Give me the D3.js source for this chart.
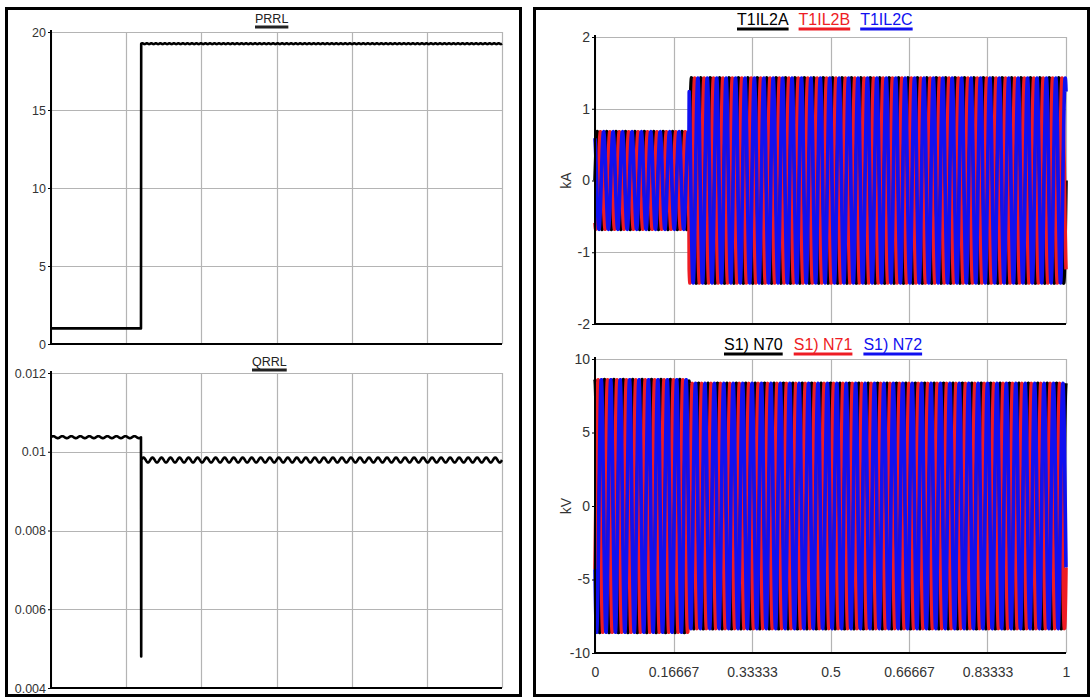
<!DOCTYPE html>
<html>
<head>
<meta charset="utf-8">
<script src="https://cdn.jsdelivr.net/npm/d3@7"></script>
<style>
body { margin: 0; background: #fff; }
svg { display: block; font-family: "Liberation Sans", Arial, sans-serif; }
</style>
</head>
<body>
<svg width="1092" height="700"></svg>
<script>
// values
var xTicks = [0, 0.16667, 0.33333, 0.5, 0.66667, 0.83333, 1];
var xTickLabels = ["0", "0.16667", "0.33333", "0.5", "0.66667", "0.83333", "1"];
var prrlTicks = [0, 5, 10, 15, 20];
var qrrlTicks = [0.004, 0.006, 0.008, 0.01, 0.012];
var kaTicks = [-2, -1, 0, 1, 2];
var kvTicks = [-10, -5, 0, 5, 10];

var stepTime = 0.2;         // switching instant (s)
var freq = 50;              // Hz
var prrlLevel = [1, 19.25]; // before / after step
var prrlRipple = [0, 0.025];
var qrrlLevel = [0.01037, 0.00979];
var qrrlRipple = [0.000025, 0.000062];
var qrrlSpike = 0.0048;
var currentAmp = [0.68, 1.43];
var voltageAmp = [8.6, 8.35];
var phaseDeg = [0, -120, 120];
var currentNames = ["T1IL2A", "T1IL2B", "T1IL2C"];
var voltageNames = ["S1) N70", "S1) N71", "S1) N72"];
var phaseColors = ["#000000", "#ee1c24", "#1010f0"];

var svg = d3.select('svg');
var hyphenInt = d => String(d);

// frames
svg.append('rect').attr('x', 6.5).attr('y', 8.5).attr('width', 514).attr('height', 687)
  .attr('fill', 'none').attr('stroke', '#000').attr('stroke-width', 3);
svg.append('rect').attr('x', 534.5).attr('y', 8.5).attr('width', 554).attr('height', 687)
  .attr('fill', 'none').attr('stroke', '#000').attr('stroke-width', 3);

// sample helpers
var dt = 0.0005;
var times = d3.range(0, 1 + dt / 2, dt);

function levelSeries(level, ripple, period) {
  return times.map(function(t) {
    var i = t < stepTime ? 0 : 1;
    return [t, level[i] + ripple[i] * Math.sin(2 * Math.PI * t / period)];
  });
}

function phaseSeries(amp, ph) {
  return times.map(function(t) {
    var i = t < stepTime ? 0 : 1;
    return [t, amp[i] * Math.sin(2 * Math.PI * freq * t + ph * Math.PI / 180)];
  });
}

function drawPanel(cfg) {
  var x = d3.scaleLinear().domain([0, 1]).range([cfg.left, cfg.right]);
  var y = d3.scaleLinear().domain(cfg.yDomain).range([cfg.bottom, cfg.top]);
  var g = svg.append('g');

  // grid
  g.append('g')
    .selectAll('line.v').data(xTicks).enter().append('line')
    .attr('x1', d => Math.round(x(d)) + 0.5).attr('x2', d => Math.round(x(d)) + 0.5)
    .attr('y1', cfg.top).attr('y2', cfg.bottom)
    .attr('stroke', '#b4b4b4').attr('stroke-width', 1.2);
  g.append('g')
    .selectAll('line.h').data(cfg.yTicks).enter().append('line')
    .attr('x1', cfg.left).attr('x2', cfg.right)
    .attr('y1', d => Math.round(y(d)) + 0.5).attr('y2', d => Math.round(y(d)) + 0.5)
    .attr('stroke', '#b4b4b4').attr('stroke-width', 1.2);

  // series
  var line = d3.line().x(d => x(d[0])).y(d => y(d[1]));
  cfg.series.forEach(function(s) {
    g.append('path').datum(s.data)
      .attr('d', line)
      .attr('fill', 'none')
      .attr('stroke', s.color)
      .attr('stroke-width', s.width)
      .attr('stroke-linejoin', 'round');
  });

  // y axis
  var yAxis = d3.axisLeft(y).tickValues(cfg.yTicks).tickSize(3).tickPadding(2)
    .tickFormat(cfg.yFormat);
  var ya = g.append('g').attr('transform', 'translate(' + cfg.left + ',0)').call(yAxis);
  ya.select('.domain').remove();
  ya.selectAll('.tick line').attr('stroke', '#000');
  ya.selectAll('text').attr('fill', '#333').style('font-size', cfg.fontSize + 'px')
    .style('font-family', '"Liberation Sans", Arial, sans-serif');

  g.append('line').attr('x1', cfg.left).attr('x2', cfg.left)
    .attr('y1', cfg.top - 2).attr('y2', cfg.bottom + 1)
    .attr('stroke', '#000').attr('stroke-width', 2);
  g.append('line').attr('x1', cfg.left - 1).attr('x2', cfg.right)
    .attr('y1', cfg.bottom).attr('y2', cfg.bottom)
    .attr('stroke', '#000').attr('stroke-width', 2);

  if (cfg.xLabels) {
    var xAxis = d3.axisBottom(x).tickValues(xTicks).tickSize(0).tickPadding(14)
      .tickFormat((d, i) => xTickLabels[i]);
    var xa = g.append('g').attr('transform', 'translate(0,' + cfg.bottom + ')').call(xAxis);
    xa.select('.domain').remove();
    xa.selectAll('text').attr('fill', '#333').style('font-size', cfg.fontSize + 'px')
      .style('font-family', '"Liberation Sans", Arial, sans-serif');
  }

  if (cfg.unit) {
    g.append('text')
      .attr('transform', 'translate(' + (cfg.left - 24) + ',' + ((cfg.top + cfg.bottom) / 2) + ') rotate(-90)')
      .attr('text-anchor', 'middle')
      .attr('fill', '#333').style('font-size', '14px')
      .text(cfg.unit);
  }

  // legend / title, underlined
  var lx = cfg.legendX;
  cfg.legend.forEach(function(item) {
    var t = g.append('text').attr('x', lx).attr('y', cfg.legendY)
      .attr('fill', item.color).style('font-size', cfg.legendSize + 'px')
      .text(item.name);
    var w = t.node().getComputedTextLength();
    g.append('line').attr('x1', lx).attr('x2', lx + w)
      .attr('y1', cfg.legendY + 4).attr('y2', cfg.legendY + 4)
      .attr('stroke', item.color).attr('stroke-width', cfg.legendLine);
    lx += w + cfg.legendGap;
  });
}

// PRRL
var prrl = levelSeries(prrlLevel, prrlRipple, 0.01);
drawPanel({
  left: 51, right: 502, top: 32, bottom: 344,
  yDomain: [0, 20], yTicks: prrlTicks, yFormat: hyphenInt, fontSize: 12.5,
  series: [{data: prrl, color: '#000', width: 2.6}],
  legend: [{name: 'PRRL', color: '#222'}], legendX: 255, legendY: 23,
  legendSize: 12.5, legendLine: 2.8, legendGap: 0
});

// QRRL
var qrrl = levelSeries(qrrlLevel, qrrlRipple, 0.02);
var spikeIdx = qrrl.findIndex(d => d[0] >= stepTime);
qrrl[spikeIdx] = [stepTime, qrrlSpike];
drawPanel({
  left: 51, right: 502, top: 373, bottom: 688,
  yDomain: [0.004, 0.012], yTicks: qrrlTicks, yFormat: d => String(+d.toFixed(3)), fontSize: 12.5,
  series: [{data: qrrl, color: '#000', width: 2.6}],
  legend: [{name: 'QRRL', color: '#222'}], legendX: 252, legendY: 366,
  legendSize: 12.5, legendLine: 2.8, legendGap: 0
});

// currents
drawPanel({
  left: 595, right: 1066, top: 37, bottom: 324,
  yDomain: [-2, 2], yTicks: kaTicks, yFormat: hyphenInt, fontSize: 14,
  unit: 'kA',
  series: phaseDeg.map((p, i) => ({data: phaseSeries(currentAmp, p), color: phaseColors[i], width: 3.6})),
  legend: currentNames.map((n, i) => ({name: n, color: phaseColors[i]})),
  legendX: 737, legendY: 25, legendSize: 16, legendLine: 3, legendGap: 10
});

// voltages
drawPanel({
  left: 595, right: 1066, top: 359, bottom: 653,
  yDomain: [-10, 10], yTicks: kvTicks, yFormat: hyphenInt, fontSize: 14,
  unit: 'kV', xLabels: true,
  series: phaseDeg.map((p, i) => ({data: phaseSeries(voltageAmp, p + 90), color: phaseColors[i], width: 3.6})),
  legend: voltageNames.map((n, i) => ({name: n, color: phaseColors[i]})),
  legendX: 724, legendY: 350, legendSize: 16, legendLine: 3, legendGap: 11
});
</script>
</body>
</html>
